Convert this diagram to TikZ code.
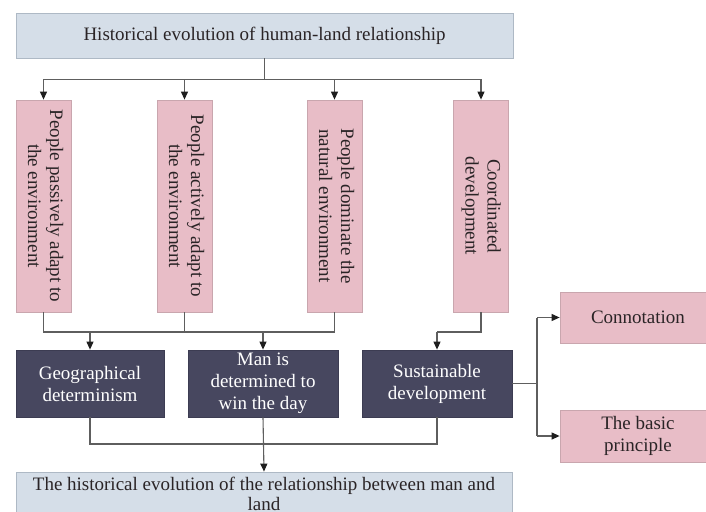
\documentclass[tikz,border=0pt]{standalone}
\usepackage{fontspec}
\setmainfont{Liberation Serif}
\usetikzlibrary{arrows.meta,calc}

\definecolor{paleblue}{HTML}{D5DEE8}
\definecolor{paleblueline}{HTML}{AEB9C5}
\definecolor{rose}{HTML}{E8BDC7}
\definecolor{roseline}{HTML}{C9A6AE}
\definecolor{slate}{HTML}{47475F}
\definecolor{slateline}{HTML}{3C3C52}
\definecolor{wire}{HTML}{5E5E5E}
\definecolor{tip}{HTML}{1E1E1E}
\definecolor{ink}{HTML}{2A2426}

\newcommand{\vtext}[1]{\rotatebox{-90}{\begin{tabular}{@{}c@{}}#1\end{tabular}}}

\tikzset{
  basefont/.style={font=\fontsize{19}{22}\selectfont, text=ink, align=center, inner sep=0pt},
  titlebox/.style={basefont, draw=paleblueline, fill=paleblue, line width=0.8pt},
  stagebox/.style={basefont, draw=roseline, fill=rose, line width=0.8pt,
    minimum width=55pt, minimum height=212pt},
  ideabox/.style={basefont, draw=slateline, fill=slate, text=white, line width=0.8pt,
    minimum width=149pt, minimum height=67pt},
  sidebox/.style={basefont, draw=roseline, fill=rose, line width=0.8pt,
    minimum width=156pt},
  link/.style={draw=wire, line width=1.1pt},
  arrowlink/.style={link, -{Triangle[length=8pt,width=7pt,fill=tip,color=tip]}},
}

\begin{document}
\begin{tikzpicture}[x=1pt, y=-1pt]
\useasboundingbox (0,0) rectangle (706,511);
\clip (0,0) rectangle (706,511);
\fill[white] (0,0) rectangle (706,511);

% heading and result bars
\node[titlebox, minimum width=497pt, minimum height=45pt] (top) at (264.5,35.5)
  {Historical evolution of human-land relationship};
\node[titlebox, minimum width=496pt, minimum height=44pt,
      font=\fontsize{19}{20}\selectfont] (bottom) at (264,494)
  {The historical evolution of the relationship between man and\\land};

% four stages
\node[stagebox] (p1) at (43.5,206) {\vtext{People passively adapt to\\the environment}};
\node[stagebox] (p2) at (184.5,206) {\vtext{People actively adapt to\\the environment}};
\node[stagebox] (p3) at (334.5,206) {\vtext{People dominate the\\natural environment}};
\node[stagebox] (p4) at (481,206) {\vtext{Coordinated\\development}};

% three schools of thought
\node[ideabox, minimum width=148pt] (d1) at (90,383.5) {Geographical\\determinism};
\node[ideabox, minimum width=150pt] (d2) at (263,383.5) {Man is\\determined to\\win the day};
\node[ideabox, minimum width=150pt] (d3) at (437,383.5) {Sustainable\\development};

% aspects of sustainable development
\node[sidebox, minimum height=51pt] (r1) at (638,317.5) {Connotation};
\node[sidebox, minimum height=52pt] (r2) at (638,436) {The basic\\principle};

% heading fans out to the stages
\coordinate (j0) at ($(top.south)+(0,21)$);
\draw[link] (top.south) -- (j0);
\draw[link] (j0 -| p1) -- (j0 -| p4);
\foreach \p in {p1,p2,p3,p4} \draw[arrowlink] (j0 -| \p) -- (\p.north);

% first three stages merge into the first two schools
\coordinate (j1) at (0,332);
\draw[link] (p1.south) -- (j1 -| p1) -- (j1 -| p3) -- (p3.south);
\draw[link] (p2.south) -- (j1 -| p2);
\draw[arrowlink] (j1 -| d1) -- (d1.north);
\draw[arrowlink] (j1 -| d2) -- (d2.north);

% coordinated development leads to sustainable development
\draw[link] (p4.south) -- (j1 -| p4) -- (j1 -| d3);
\draw[arrowlink] (j1 -| d3) -- (d3.north);

% schools converge on the result
\coordinate (j2) at (0,444);
\draw[link] (d1.south) -- (j2 -| d1) -- (j2 -| d3) -- (d3.south);
\draw[arrowlink] (d2.south) -- (bottom.north);

% sustainable development branches
\coordinate (j3) at (537,0);
\draw[link] (d3.east) -- (j3 |- d3.east);
\draw[link] (j3 |- r1.west) -- (j3 |- r2.west);
\draw[arrowlink] (j3 |- r1.west) -- (r1.west);
\draw[arrowlink] (j3 |- r2.west) -- (r2.west);
\end{tikzpicture}
\end{document}
